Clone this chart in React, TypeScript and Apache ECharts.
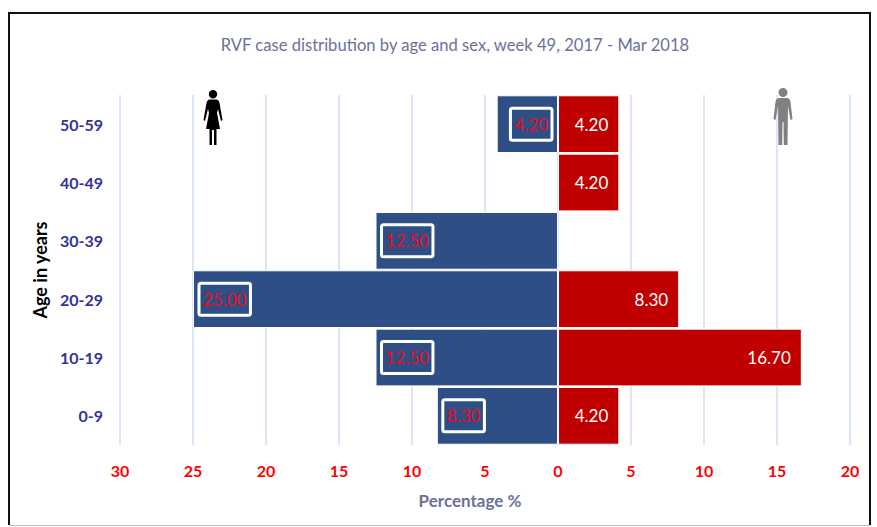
import React, { useEffect, useRef } from "react";
import * as echarts from "echarts";

const titleText = "RVF case distribution by age and sex, week 49, 2017 - Mar 2018";
const ageGroups = ["0-9", "10-19", "20-29", "30-39", "40-49", "50-59"];
const femaleValues: (number | null)[] = [8.3, 12.5, 25, 12.5, null, 4.2];
const maleValues: (number | null)[] = [4.2, 16.7, 8.3, null, 4.2, 4.2];

const FONT = "Lato, 'Open Sans', sans-serif";

echarts.graphic.registerShape(
  "femaleIcon",
  echarts.graphic.extendPath(
    "M10 1a4.2 4.2 0 1 0 0 8.4a4.2 4.2 0 1 0 0-8.4Z M6 10.5L14 10.5Q16 11 16.5 14L19.5 31L18 32L15 20L14 24L17 40L13.5 40L13.5 56L11 56L11 41L9 41L9 56L6.5 56L6.5 40L3 40L6 24L5 20L2 32L0.5 31L3.5 14Q4 11 6 10.5Z",
    {}
  )
);
echarts.graphic.registerShape(
  "maleIcon",
  echarts.graphic.extendPath(
    "M10 0a4.5 4.5 0 1 0 0 9a4.5 4.5 0 1 0 0-9Z M5.5 10L14.5 10Q17 10.5 17.5 14L19.5 31L17.5 32L15 18L14.5 57L10.8 57L10.5 34L9.5 34L9.2 57L5.5 57L5 18L2.5 32L0.5 31L2.5 14Q3 10.5 5.5 10Z",
    {}
  )
);

export default function App() {
  const ref = useRef<HTMLDivElement>(null);
  useEffect(() => {
    const chart = echarts.init(ref.current!, null, { renderer: "svg" });
    chart.setOption({
      animation: false,
      backgroundColor: "#fff",
      title: {
        text: titleText,
        left: 450,
        top: 31,
        textAlign: "center",
        textStyle: { fontFamily: FONT, fontSize: 16.6, fontWeight: "normal", color: "#6d7199" },
      },
      grid: { left: 120, right: 27, top: 95, bottom: 82 },
      xAxis: {
        type: "value",
        min: -30,
        max: 20,
        interval: 5,
        name: "Percentage %",
        nameLocation: "middle",
        nameGap: 47,
        nameTextStyle: {
          fontFamily: FONT, fontSize: 17, fontWeight: "bold", color: "#6d7199", padding: [0, 30, 0, 0],
        },
        axisLine: { show: false },
        axisTick: { show: false },
        axisLabel: {
          margin: 17,
          fontFamily: FONT,
          fontSize: 16,
          fontWeight: "bold",
          color: "#ff0000",
          formatter: (v: number) => String(Math.abs(v)),
        },
        splitLine: { show: true, lineStyle: { color: "#dbe7f7", width: 2 } },
      },
      yAxis: {
        type: "category",
        data: ageGroups,
        name: "Age in years",
        nameLocation: "middle",
        nameGap: 65,
        nameRotate: 90,
        nameTextStyle: { fontFamily: FONT, fontSize: 18, fontWeight: "bold", color: "#000" },
        axisLine: { show: false },
        axisTick: { show: false },
        axisLabel: {
          margin: 17,
          fontFamily: FONT,
          fontSize: 16,
          fontWeight: "bold",
          color: "#333399",
        },
      },
      series: [
        {
          name: "Female",
          type: "bar",
          stack: "pyramid",
          barCategoryGap: "1%",
          itemStyle: { color: "#2e4f85", borderColor: "#fff", borderWidth: 1 },
          data: femaleValues.map((v) => ({
            value: v === null ? null : -v,
            label: {
              show: v !== null,
              position: v !== null && v < 5 ? "insideRight" : "insideLeft",
            },
          })),
          label: {
            distance: 6,
            fontFamily: FONT,
            fontSize: 17,
            color: "#ee0a1c",
            borderColor: "#fff",
            borderWidth: 3,
            borderRadius: 2,
            padding: [8, 4, 7, 4],
            formatter: (p: any) => Math.abs(p.value).toFixed(2),
          },
        },
        {
          name: "Male",
          type: "bar",
          stack: "pyramid",
          barCategoryGap: "1%",
          itemStyle: { color: "#c00000", borderColor: "#fff", borderWidth: 1 },
          data: maleValues,
          label: {
            show: true,
            position: "insideRight",
            distance: 11,
            fontFamily: FONT,
            fontSize: 17,
            color: "#fff",
            formatter: (p: any) => (p.value == null ? "" : Number(p.value).toFixed(2)),
          },
        },
      ],
      graphic: [
        {
          type: "polyline",
          silent: true,
          z: 10,
          shape: { points: [[9, 525], [9, 13], [870, 13], [870, 525]] },
          style: { fill: "none", stroke: "#111", lineWidth: 2 },
        },
        {
          type: "line",
          silent: true,
          z: 10,
          shape: { x1: 9, y1: 525.5, x2: 870, y2: 525.5 },
          style: { stroke: "#bfbfbf", lineWidth: 1 },
        },
        { type: "femaleIcon", x: 203, y: 89, scaleX: 1, scaleY: 1, z: 10, style: { fill: "#000" } },
        { type: "maleIcon", x: 773, y: 88, scaleX: 1, scaleY: 1, z: 10, style: { fill: "#808080" } },
      ],
    });
    return () => chart.dispose();
  }, []);
  return <div ref={ref} style={{ position: "fixed", left: 0, top: 0, width: 877, height: 527 }} />;
}
